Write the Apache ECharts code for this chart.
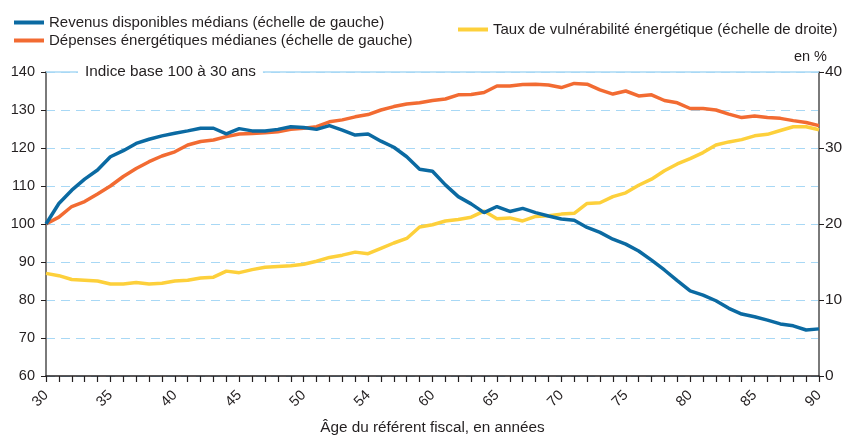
<!DOCTYPE html>
<html>
<head>
<meta charset="utf-8">
<script src="https://cdn.jsdelivr.net/npm/echarts@6/dist/echarts.min.js"></script>
<style>
	html, body { margin: 0; padding: 0; background: #fff; }
	#chart { width: 849px; height: 437px; }
</style>
</head>
<body>
<div id="chart"></div>
<script>
'use strict';

var ages = [30, 31, 32, 33, 34, 35, 36, 37, 38, 39,
		40, 41, 42, 43, 44, 45, 46, 47, 48, 49,
		50, 51, 52, 53, 54, 55, 56, 57, 58, 59,
		60, 61, 62, 63, 64, 65, 66, 67, 68, 69,
		70, 71, 72, 73, 74, 75, 76, 77, 78, 79,
		80, 81, 82, 83, 84, 85, 86, 87, 88, 89, 90];

var revenus = [100, 105.4, 108.9, 111.8, 114.2, 117.7, 119.3, 121.2, 122.3, 123.2,
		123.9, 124.5, 125.2, 125.2, 123.7, 125.1, 124.5, 124.5, 124.9, 125.6,
		125.4, 124.9, 125.9, 124.7, 123.4, 123.7, 121.8, 120.2, 117.7, 114.4,
		113.9, 110.3, 107.2, 105.3, 103, 104.6, 103.3, 104.1, 103, 102.1,
		101.3, 101, 99.1, 97.8, 96, 94.7, 92.9, 90.5, 87.9, 85.1,
		82.4, 81.3, 79.8, 77.8, 76.3, 75.6, 74.7, 73.7, 73.2, 72.1, 72.4];

var depenses = [100, 101.8, 104.6, 105.9, 107.9, 110, 112.5, 114.6, 116.4, 117.9,
		119, 120.8, 121.7, 122.1, 123, 123.7, 123.8, 124, 124.3, 124.9,
		125.2, 125.6, 126.9, 127.4, 128.2, 128.8, 130, 130.9, 131.6, 131.9,
		132.5, 132.9, 134, 134.1, 134.6, 136.3, 136.3, 136.7, 136.8, 136.6,
		135.9, 137, 136.8, 135.3, 134.2, 135, 133.7, 134, 132.5, 131.9,
		130.4, 130.4, 130, 128.9, 128, 128.4, 128, 127.8, 127.2, 126.7, 125.9];

var taux = [13.5, 13.2, 12.7, 12.6, 12.5, 12.1, 12.1, 12.3, 12.1, 12.2,
		12.5, 12.6, 12.9, 13, 13.8, 13.6, 14, 14.3, 14.4, 14.5,
		14.7, 15.1, 15.6, 15.9, 16.3, 16.1, 16.8, 17.5, 18.1, 19.6,
		19.9, 20.4, 20.6, 20.9, 21.7, 20.7, 20.8, 20.4, 21, 21.1,
		21.3, 21.4, 22.7, 22.8, 23.6, 24.1, 25.1, 25.9, 27, 27.9,
		28.6, 29.4, 30.4, 30.8, 31.1, 31.6, 31.8, 32.3, 32.8, 32.8, 32.4];

// tick labels shown on the age axis (the original prints 54 at age 55)
var labelAges = [30, 35, 40, 45, 50, 55, 60, 65, 70, 75, 80, 85, 90];
var labelTexts = ['30', '35', '40', '45', '50', '54', '60', '65', '70', '75', '80', '85', '90'];

var names = [
	'Revenus disponibles médians (échelle de gauche)',
	'Dépenses énergétiques médianes (échelle de gauche)',
	'Taux de vulnérabilité énergétique (échelle de droite)'
];

var font = '"Liberation Sans", Arial, sans-serif',
		textColor = '#231f20',
		gridColor = '#a8d8f5';

function tickLabel(value) {
	var i = labelAges.indexOf(Number(value));
	return i < 0 ? '' : labelTexts[i];
}

var chart = echarts.init(document.getElementById('chart'), null, {renderer: 'canvas'});

var option = {
	animation: false,
	textStyle: {fontFamily: font, color: textColor},
	grid: {left: 46, right: 30, top: 72, bottom: 61, containLabel: false, outerBoundsMode: 'none'},
	legend: [
		{
			data: [names[0], names[1]],
			orient: 'vertical',
			left: 9,
			top: 10,
			itemWidth: 30,
			itemHeight: 4,
			itemGap: 3,
			icon: 'rect',
			textStyle: {fontFamily: font, fontSize: 15, color: textColor}
		},
		{
			data: [names[2]],
			left: 453,
			top: 17,
			itemWidth: 30,
			itemHeight: 4,
			icon: 'rect',
			textStyle: {fontFamily: font, fontSize: 15, color: textColor}
		}
	],
	xAxis: {
		type: 'category',
		data: ages,
		boundaryGap: false,
		name: 'Âge du référent fiscal, en années',
		nameLocation: 'middle',
		nameGap: 44,
		nameTextStyle: {fontFamily: font, fontSize: 15.3, color: textColor},
		axisLine: {lineStyle: {color: '#231f20', width: 1.5}},
		axisTick: {show: true, interval: 0, length: 6, inside: false, lineStyle: {color: '#231f20', width: 1.2}},
		axisLabel: {
			interval: function (index, value) {
				return labelAges.indexOf(Number(value)) >= 0;
			},
			formatter: tickLabel,
			rotate: 45,
			margin: 17,
			fontFamily: font,
			fontSize: 14.5,
			color: textColor
		},
		splitLine: {show: false}
	},
	yAxis: [
		{
			type: 'value',
			min: 60,
			max: 140,
			interval: 10,
			axisLine: {show: true, lineStyle: {color: '#7a7a7a', width: 2}},
			axisTick: {show: true, length: 5, lineStyle: {color: '#231f20'}},
			axisLabel: {fontFamily: font, fontSize: 14.5, color: textColor, margin: 11},
			splitLine: {show: true, lineStyle: {color: gridColor, type: [9, 6], width: 1.2}}
		},
		{
			type: 'value',
			min: 0,
			max: 40,
			interval: 10,
			name: 'en %',
			nameLocation: 'end',
			nameGap: -3,
			nameTextStyle: {fontFamily: font, fontSize: 14.5, color: textColor, align: 'right', padding: [0, -8, 0, 0]},
			axisLine: {show: true, lineStyle: {color: '#7a7a7a', width: 2}},
			axisTick: {show: true, length: 5, lineStyle: {color: '#231f20'}},
			axisLabel: {fontFamily: font, fontSize: 15.5, color: textColor, margin: 6},
			splitLine: {show: false}
		}
	],
	graphic: [
		{
			type: 'text',
			left: 78,
			top: 64,
			z: 100,
			style: {
				text: 'Indice base 100 à 30 ans',
				fontFamily: font,
				fontSize: 15.3,
				fill: textColor,
				backgroundColor: '#fff',
				padding: [0, 7, 0, 7]
			}
		}
	],
	series: [
		{
			name: names[0],
			type: 'line',
			yAxisIndex: 0,
			data: revenus,
			showSymbol: false,
			color: '#0b6aa2',
			lineStyle: {width: 3.5, color: '#0b6aa2'},
			z: 4
		},
		{
			name: names[1],
			type: 'line',
			yAxisIndex: 0,
			data: depenses,
			showSymbol: false,
			color: '#f26b32',
			lineStyle: {width: 3.5, color: '#f26b32'},
			z: 3,
			markLine: {
				silent: true,
				symbol: 'none',
				label: {show: false},
				lineStyle: {color: gridColor, type: 'solid', width: 1.5},
				data: [{yAxis: 140}],
				z: 1
			}
		},
		{
			name: names[2],
			type: 'line',
			yAxisIndex: 1,
			data: taux,
			showSymbol: false,
			color: '#fdd03b',
			lineStyle: {width: 3.5, color: '#fdd03b'},
			z: 2
		}
	]
};

chart.setOption(option);
</script>
</body>
</html>
